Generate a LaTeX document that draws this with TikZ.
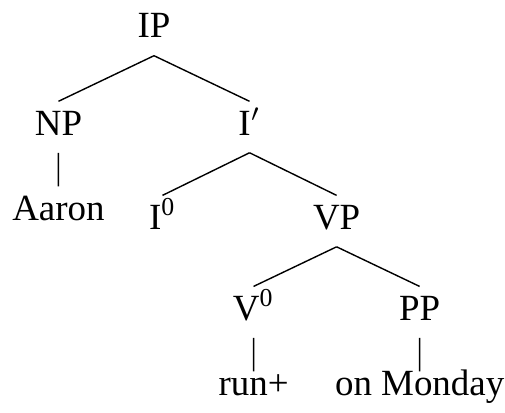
\documentclass[tikz,border=0pt]{standalone}
\usepackage{fontspec}
\setmainfont{Liberation Serif}
\usepackage{tikz}

\begin{document}
\begin{tikzpicture}[x=0.01cm,y=-0.01cm,growth parent anchor=base,
	edge from parent path={(\tikzparentnode.south) -- (\tikzchildnode.north)}]
\useasboundingbox (0,0) rectangle (505,413);
\tikzstyle{every node}=[anchor=base,font=\fontsize{10.5}{12}\selectfont,text height=0.24cm,text depth=0.08cm,inner xsep=0pt,inner ysep=0.09cm];
\tikzstyle{leaf}=[text height=0.14cm];
\node (ip) at (154,38) {IP}[sibling distance=1.91cm,level distance=0.97cm]
child { node (np) {NP}[level distance=0.85cm]
	child {
		node (aaron) {Aaron}
	}
}
child { node (ibar) {I$'$}[sibling distance=1.74cm,level distance=0.94cm]
	child {
		node (i0) {I\textsuperscript{0}}
	}
	child {
		node (vp) {VP}[sibling distance=1.66cm,level distance=0.91cm]
		child {
			node (v0) {V\textsuperscript{0}}[level distance=0.75cm]
			child {
				node[leaf] (run) {run+}
			}
		}
		child {
			node (pp) {PP}[level distance=0.75cm]
			child {
				node[leaf] (mon) {on Monday}
			}
		}
	}
};
\end{tikzpicture}
\end{document}
